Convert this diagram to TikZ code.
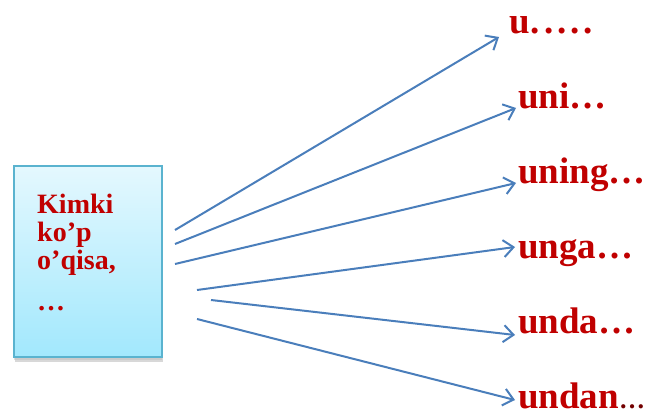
\documentclass[tikz,border=0pt]{standalone}
\usepackage{fontspec}
\setmainfont{Liberation Serif}
\usetikzlibrary{arrows.meta}
\definecolor{txtred}{RGB}{192,0,0}
\definecolor{arrblue}{RGB}{74,126,187}
\definecolor{boxtop}{RGB}{228,248,254}
\definecolor{boxbot}{RGB}{162,232,253}
\definecolor{boxline}{RGB}{90,179,207}
\tikzset{
  boxtxt/.style={anchor=base west,inner sep=0pt,text=txtred,font=\fontsize{28}{28}\selectfont\bfseries},
  lbl/.style={anchor=base west,inner sep=0pt,text=txtred,font=\fontsize{37}{37}\selectfont\bfseries},
  arr/.style={draw=arrblue,line width=2pt,-{Straight Barb[length=10pt,width=17pt,line width=2pt]}}
}
\begin{document}
\begin{tikzpicture}[x=1pt,y=-1pt]
\useasboundingbox (0,0) rectangle (652,415);
% shadow
\fill[black!30,opacity=0.5] (15,170) rectangle (163,362);
\fill[black!25,opacity=0.5] (14,168) rectangle (162,360);
% box
\node[draw=boxline,line width=1.8pt,top color=boxtop,bottom color=boxbot,minimum width=148pt,minimum height=191pt,inner sep=0pt,anchor=north west] (box) at (13,165) {};
\node[boxtxt] (k1) at (37,213) {Kimki};
\node[boxtxt] (k2) at (37,241) {ko’p};
\node[boxtxt] (k3) at (37,269) {o’qisa,};
\node[boxtxt] (k4) at (37,310) {…};
% labels
\node[lbl] (l1) at (509,33) {u\kern1pt.\kern4pt.\kern4pt.\kern4pt.\kern4pt.};
\node[lbl] (l2) at (518,108) {uni…};
\node[lbl] (l3) at (518,183) {uning…};
\node[lbl] (l4) at (518,258) {unga…};
\node[lbl] (l5) at (518,333) {unda…};
\node[lbl] (l6) at (518,408) {undan\fontsize{26}{26}\selectfont\color{txtred!60!black}…};
% arrow ends
\coordinate (s1) at (175,230); \coordinate (t1) at (499,37);
\coordinate (s2) at (175,244); \coordinate (t2) at (516,108);
\coordinate (s3) at (175,264); \coordinate (t3) at (516,183);
\coordinate (s4) at (197,290); \coordinate (t4) at (515,247);
\coordinate (s5) at (211,300); \coordinate (t5) at (515,335);
\coordinate (s6) at (197,319); \coordinate (t6) at (515,400);
\foreach \i in {1,...,6} \draw[arr] (s\i) -- (t\i);
\end{tikzpicture}
\end{document}
